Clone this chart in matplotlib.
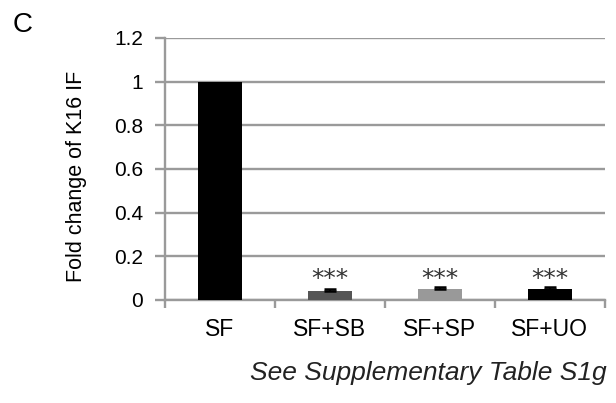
import numpy as np
import matplotlib
matplotlib.use('Agg')
import matplotlib.pyplot as plt

# data
groups = ['SF', 'SF+SB', 'SF+SP', 'SF+UO']
values = [1.0, 0.04, 0.05, 0.05]
errors = [0.0, 0.008, 0.01, 0.01]
stars = ['', '***', '***', '***']
colors = ['#000000', '#555555', '#999999', '#000000']
yticks = [0, 0.2, 0.4, 0.6, 0.8, 1, 1.2]
ytick_labels = ['0', '0.2', '0.4', '0.6', '0.8', '1', '1.2']
star_y = 0.062

plt.rcParams['font.family'] = ['Liberation Sans', 'DejaVu Sans']

fig = plt.figure(figsize=(6.16, 4.03), dpi=100)
ax = fig.add_axes([0.268, 0.256, 0.714, 0.650])

x = np.arange(len(groups)) + 0.5
ax.bar(x, values, width=0.4, color=colors, zorder=3)
has_err = np.array(errors) > 0
ax.errorbar(x[has_err], np.array(values)[has_err],
            yerr=[np.zeros(has_err.sum()), np.array(errors)[has_err]], fmt='none',
            ecolor='black', elinewidth=1.2, capsize=4.5, capthick=1.8, zorder=4)
for xi, s in zip(x, stars):
    if s:
        ax.text(xi, star_y, s, ha='center', va='baseline', fontsize=18,
                family='DejaVu Sans', color='#333333')

ax.set_xlim(0, 4)
ax.set_ylim(0, 1.2)
ax.set_yticks(yticks)
ax.set_yticklabels(ytick_labels, fontsize=15)
ax.yaxis.grid(True, color='#9a9a9a', linewidth=1.7, zorder=0)
ax.tick_params(axis='y', length=7, width=1.7, color='#9a9a9a', pad=9)

# category labels centred, ticks at category boundaries
ax.set_xticks([0, 1, 2, 3, 4])
ax.set_xticklabels([])
ax.set_xticks(x, minor=True)
ax.set_xticklabels(groups, minor=True, fontsize=16.5)
ax.tick_params(axis='x', which='major', length=6, width=1.7, color='#9a9a9a', direction='out')
ax.tick_params(axis='x', which='minor', length=0, pad=13)

for side in ['top', 'right']:
    ax.spines[side].set_visible(False)
ax.spines['left'].set_color('#9a9a9a')
ax.spines['left'].set_linewidth(1.7)
ax.spines['bottom'].set_color('#9a9a9a')
ax.spines['bottom'].set_linewidth(1.7)

ax.set_ylabel('Fold change of K16 IF', fontsize=15.5)
ax.yaxis.set_label_coords(-0.178, 0.47)

fig.text(0.021, 0.937, 'C', fontsize=20, ha='left', va='center')
fig.text(0.985, 0.057, 'See Supplementary Table S1g', fontsize=19, style='italic',
         ha='right', va='baseline', color='#222222')

fig.savefig('out.png', dpi=100)
